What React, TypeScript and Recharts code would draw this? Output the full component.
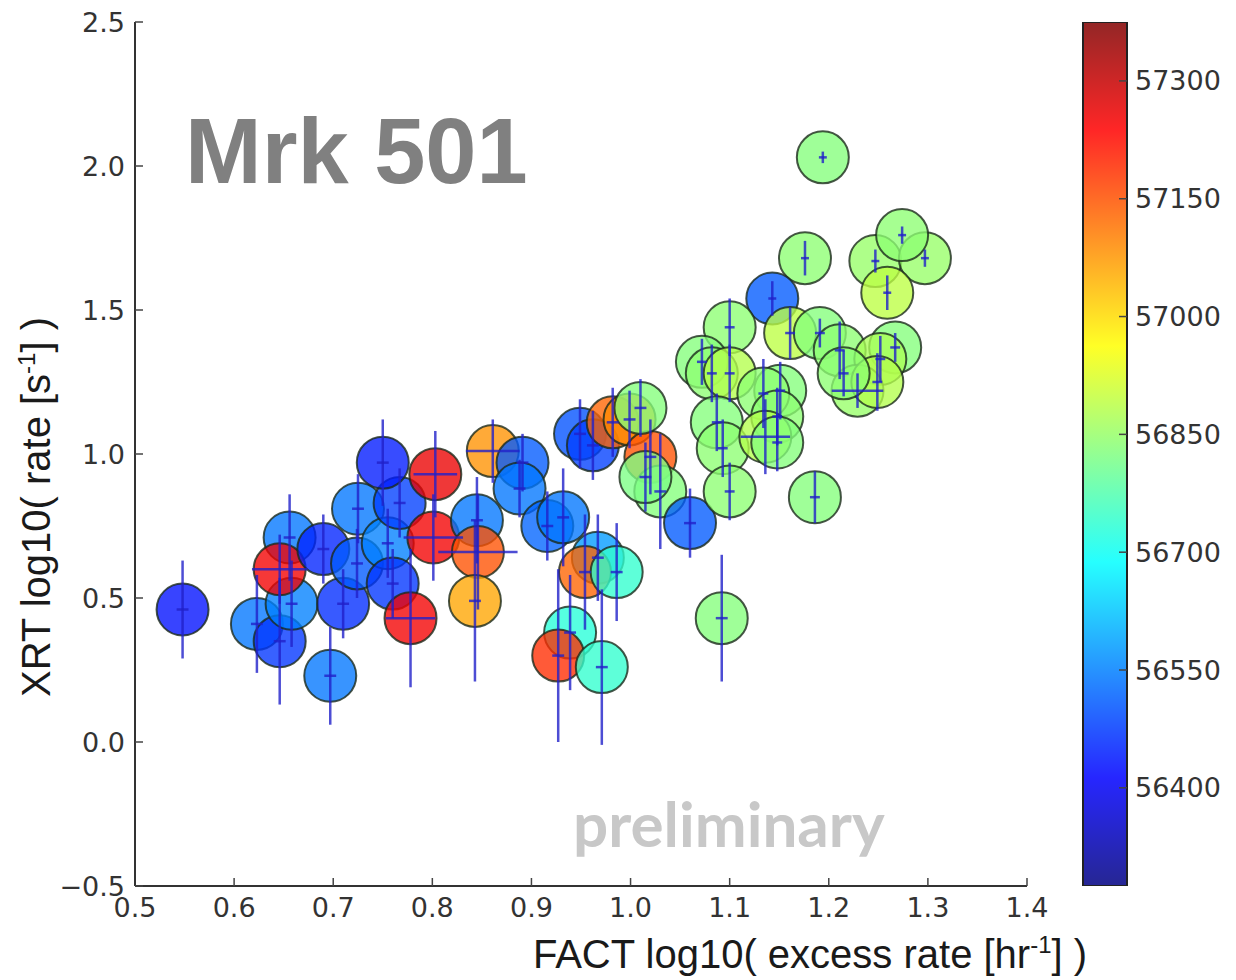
import { Bar, BarChart, ErrorBar, Scatter, ScatterChart, XAxis, YAxis } from "recharts";

// FACT vs XRT rates, Mrk 501, coloured by MJD
const factRate = [
  0.548, 0.623, 0.646, 0.658, 0.656, 0.646, 0.69, 0.71, 0.697, 0.725, 0.724, 0.755, 0.767, 0.76, 0.75,
  0.803, 0.801, 0.778, 0.861, 0.891, 0.888, 0.845, 0.846, 0.843, 0.916, 0.932, 0.967, 0.954, 0.986,
  0.939, 0.927, 0.971, 0.949, 0.962, 0.982, 0.999, 1.02, 1.01, 1.03, 1.015, 1.06, 1.092, 1.194, 1.176,
  1.247, 1.297, 1.274, 1.259, 1.143, 1.161, 1.1, 1.072, 1.082, 1.1, 1.191, 1.211, 1.267, 1.252, 1.229,
  1.249, 1.215, 1.151, 1.134, 1.148, 1.087, 1.093, 1.136, 1.148, 1.1, 1.186,
];
const xrtRate = [
  0.46, 0.41, 0.35, 0.48, 0.71, 0.6, 0.67, 0.48, 0.23, 0.81, 0.62, 0.69, 0.83, 0.55, 0.97,
  0.93, 0.71, 0.43, 1.01, 0.97, 0.88, 0.77, 0.66, 0.49, 0.75, 0.78, 0.64, 0.59, 0.59,
  0.38, 0.3, 0.26, 1.07, 1.03, 1.11, 1.12, 0.99, 1.16, 0.87, 0.92, 0.76, 0.43, 2.03, 1.68,
  1.67, 1.68, 1.76, 1.56, 1.54, 1.42, 1.44, 1.32, 1.28, 1.28, 1.42, 1.36, 1.37, 1.33, 1.22,
  1.25, 1.28, 1.22, 1.21, 1.13, 1.11, 1.02, 1.06, 1.04, 0.87, 0.85,
];
const factErr = [
  0.006, 0.006, 0.006, 0.006, 0.006, 0.028, 0.006, 0.006, 0.006, 0.006, 0.006, 0.006, 0.006, 0.006, 0.006,
  0.022, 0.03, 0.025, 0.027, 0.006, 0.006, 0.006, 0.04, 0.006, 0.006, 0.006, 0.006, 0.006, 0.006,
  0.006, 0.006, 0.006, 0.006, 0.006, 0.006, 0.006, 0.006, 0.006, 0.006, 0.006, 0.006, 0.006, 0.004, 0.004,
  0.004, 0.004, 0.004, 0.004, 0.004, 0.005, 0.005, 0.005, 0.005, 0.005, 0.005, 0.005, 0.005, 0.005, 0.026,
  0.005, 0.005, 0.005, 0.005, 0.005, 0.005, 0.005, 0.025, 0.005, 0.005, 0.005,
];
const xrtErr = [
  0.17, 0.17, 0.22, 0.15, 0.15, 0.12, 0.12, 0.12, 0.17, 0.12, 0.12, 0.12, 0.12, 0.12, 0.15,
  0.15, 0.15, 0.24, 0.11, 0.1, 0.1, 0.15, 0.2, 0.28, 0.12, 0.17, 0.15, 0.2, 0.17,
  0.2, 0.3, 0.27, 0.12, 0.12, 0.12, 0.1, 0.13, 0.1, 0.2, 0.12, 0.12, 0.22, 0.02, 0.06,
  0.04, 0.03, 0.03, 0.06, 0.06, 0.09, 0.1, 0.08, 0.1, 0.1, 0.05, 0.1, 0.05, 0.08, 0.06,
  0.1, 0.08, 0.1, 0.12, 0.1, 0.1, 0.1, 0.13, 0.1, 0.1, 0.09,
];
const mjd = [
  56430, 56540, 56470, 56550, 56540, 57250, 56450, 56460, 56540, 56540, 56510, 56550, 56480, 56470, 56440,
  57260, 57250, 57250, 57080, 56510, 56540, 56540, 57150, 57060, 56520, 56540, 56580, 57130, 56740,
  56730, 57190, 56740, 56500, 56480, 57130, 57090, 57150, 56830, 56830, 56820, 56510, 56830, 56830, 56840,
  56850, 56850, 56840, 56890, 56510, 56890, 56840, 56830, 56840, 56880, 56830, 56840, 56830, 56870, 56850,
  56880, 56840, 56830, 56840, 56840, 56830, 56840, 56880, 56830, 56840, 56830,
];

const xTicks = [0.5, 0.6, 0.7, 0.8, 0.9, 1.0, 1.1, 1.2, 1.3, 1.4];
const yTicks = [-0.5, 0, 0.5, 1.0, 1.5, 2.0, 2.5];
const cbTicks = [56400, 56550, 56700, 56850, 57000, 57150, 57300];
const cbRange = [56275, 57375];

const points = factRate.map((x, i) => ({
  x,
  y: xrtRate[i],
  ex: factErr[i],
  ey: xrtErr[i],
  mjd: mjd[i],
}));

const cbData = [{ name: "MJD", span: cbRange }];

const clip = (v: number) => Math.max(0, Math.min(1, v));
function jetFrac(t: number) {
  const r = clip(1.5 - Math.abs(4 * t - 3));
  const g = clip(1.5 - Math.abs(4 * t - 2));
  const b = clip(1.5 - Math.abs(4 * t - 1));
  return `rgb(${Math.round(r * 255)},${Math.round(g * 255)},${Math.round(b * 255)})`;
}
const jet = (v: number) => jetFrac((v - cbRange[0]) / (cbRange[1] - cbRange[0]));

const tickFont = { fontFamily: "DejaVu Sans", fontSize: 27, fill: "#333" };
const axisLine = { stroke: "#333", strokeWidth: 2 };
const tickLine = { stroke: "#444", strokeWidth: 1.5 };
const fmtY = (v: number) => (v < 0 ? "\u2212" + Math.abs(v).toFixed(1) : v.toFixed(1));

function Dot(props: any) {
  const { cx, cy, payload } = props;
  return (
    <circle
      cx={cx}
      cy={cy}
      r={26}
      fill={jet(payload.mjd)}
      fillOpacity={0.78}
      stroke="#1c2a1c"
      strokeOpacity={0.8}
      strokeWidth={2}
    />
  );
}

export default function App() {
  return (
    <div style={{ position: "absolute", left: 0, top: 0, width: 1236, height: 980, background: "#fff" }}>
      <ScatterChart width={1236} height={980} margin={{ top: 22, right: 209, bottom: 54, left: 55 }}>
        <XAxis
          type="number"
          dataKey="x"
          domain={[0.5, 1.4]}
          ticks={xTicks}
          interval={0}
          allowDataOverflow
          height={40}
          tickFormatter={(v: number) => v.toFixed(1)}
          tick={tickFont}
          axisLine={axisLine}
          tickLine={tickLine}
          tickSize={-8}
          tickMargin={20}
        />
        <XAxis
          xAxisId="top"
          orientation="top"
          type="number"
          domain={[0.5, 1.4]}
          ticks={xTicks}
          interval={0}
          allowDataOverflow
          height={0}
          tick={false}
          axisLine={axisLine}
          tickLine={tickLine}
          tickSize={-8}
        />
        <YAxis
          type="number"
          dataKey="y"
          domain={[-0.5, 2.5]}
          ticks={yTicks}
          interval={0}
          allowDataOverflow
          width={80}
          tickFormatter={fmtY}
          tick={tickFont}
          axisLine={axisLine}
          tickLine={tickLine}
          tickSize={-8}
          tickMargin={18}
        />
        <YAxis
          yAxisId="right"
          orientation="right"
          type="number"
          domain={[-0.5, 2.5]}
          ticks={yTicks}
          interval={0}
          allowDataOverflow
          width={0}
          tick={false}
          axisLine={axisLine}
          tickLine={tickLine}
          tickSize={-8}
        />
        <Scatter data={points} shape={Dot} isAnimationActive={false} zIndex={600} />
        <Scatter data={points} shape={() => <g />} isAnimationActive={false} zIndex={700}>
          <ErrorBar
            dataKey="ey"
            direction="y"
            width={0}
            stroke="#2121c9"
            strokeWidth={2.5}
            strokeOpacity={0.8}
            isAnimationActive={false}
            zIndex={700}
          />
          <ErrorBar
            dataKey="ex"
            direction="x"
            width={0}
            stroke="#2121c9"
            strokeWidth={2.5}
            strokeOpacity={0.8}
            isAnimationActive={false}
            zIndex={700}
          />
        </Scatter>
      </ScatterChart>

      <div style={{ position: "absolute", left: 1040, top: 0 }}>
        <BarChart
          width={196}
          height={980}
          data={cbData}
          barCategoryGap={0}
          margin={{ top: 22, right: 0, bottom: 94, left: 43 }}
        >
          <defs>
            <linearGradient id="jetGrad" x1="0" y1="0" x2="0" y2="1">
              {[1, 0.875, 0.75, 0.625, 0.5, 0.375, 0.25, 0.125, 0].map((t) => (
                <stop key={t} offset={1 - t} stopColor={jetFrac(t)} />
              ))}
            </linearGradient>
          </defs>
          <XAxis dataKey="name" hide />
          <YAxis
            orientation="right"
            type="number"
            domain={cbRange}
            ticks={cbTicks}
            interval={0}
            allowDataOverflow
            width={109}
            tick={tickFont}
            axisLine={false}
            tickLine={tickLine}
            tickSize={-8}
            tickMargin={16}
            zIndex={700}
          />
          <Bar dataKey="span" fill="url(#jetGrad)" fillOpacity={0.85} stroke="#222" strokeWidth={2} isAnimationActive={false} />
        </BarChart>
      </div>

      <svg
        width={1236}
        height={980}
        style={{ position: "absolute", left: 0, top: 0, pointerEvents: "none" }}
      >
        <text x={185} y={183} fontFamily="Liberation Sans" fontWeight="bold" fontSize={92} fill="#808080">
          Mrk 501
        </text>
        <text x={573} y={847} fontFamily="Lato" fontWeight="bold" fontSize={62} fill="#c8c8c8">
          preliminary
        </text>
        <text x={810} y={968} textAnchor="middle" fontFamily="Liberation Sans" fontSize={40} fill="#1a1a1a">
          FACT log10( excess rate [hr
          <tspan fontSize={24} dy={-15}>-1</tspan>
          <tspan dy={15}>] )</tspan>
        </text>
        <text
          x={50}
          y={507}
          transform="rotate(-90 50 507)"
          textAnchor="middle"
          fontFamily="Liberation Sans"
          fontSize={40}
          fill="#1a1a1a"
        >
          XRT log10( rate [s
          <tspan fontSize={24} dy={-15}>-1</tspan>
          <tspan dy={15}>] )</tspan>
        </text>
      </svg>
    </div>
  );
}
